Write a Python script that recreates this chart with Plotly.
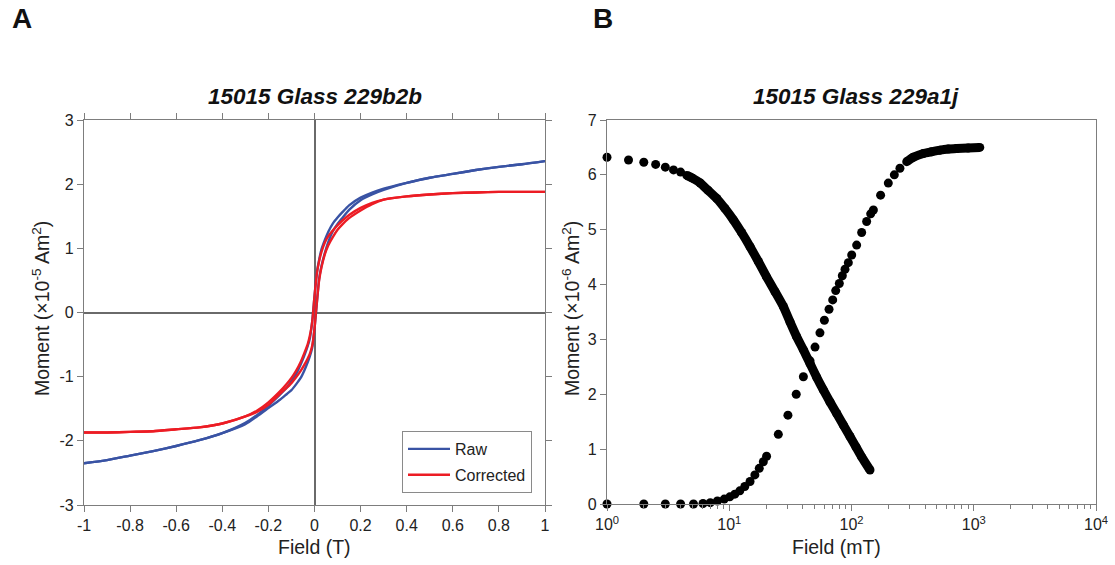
import plotly.graph_objects as go

# ---------------- Panel A data: hysteresis loop (field in T, moment in 1e-5 Am2) ----------------
FIELD_T = [1.0, 0.9, 0.8, 0.7, 0.6, 0.5, 0.4, 0.3, 0.25, 0.2, 0.15, 0.12, 0.1, 0.08, 0.06,
           0.045, 0.03, 0.02, 0.01, 0.0, -0.01, -0.02, -0.03, -0.045, -0.06, -0.08, -0.1,
           -0.12, -0.15, -0.2, -0.25, -0.3, -0.4, -0.5, -0.6, -0.7, -0.8, -0.9, -1.0]

RAW_DESC = [2.36, 2.31, 2.27, 2.22, 2.16, 2.10, 2.02, 1.93, 1.87, 1.79, 1.67, 1.56, 1.48, 1.39, 1.26,
            1.13, 0.98, 0.82, 0.62, 0.25, -0.14, -0.40, -0.53, -0.68, -0.81, -0.96, -1.07,
            -1.17, -1.28, -1.45, -1.60, -1.72, -1.88, -1.99, -2.08, -2.16, -2.23, -2.30, -2.35]
RAW_ASC = [2.36, 2.31, 2.27, 2.22, 2.16, 2.10, 2.02, 1.91, 1.84, 1.75, 1.60, 1.47, 1.38, 1.27, 1.10,
           0.93, 0.72, 0.52, 0.14, -0.25, -0.55, -0.68, -0.78, -0.91, -1.02, -1.12, -1.21,
           -1.27, -1.36, -1.49, -1.62, -1.74, -1.88, -1.99, -2.08, -2.16, -2.23, -2.30, -2.35]

COR_DESC = [1.88, 1.88, 1.88, 1.87, 1.86, 1.84, 1.81, 1.76, 1.71, 1.63, 1.52, 1.43, 1.36, 1.28, 1.19,
            1.09, 0.94, 0.80, 0.60, 0.25, -0.15, -0.36, -0.50, -0.64, -0.77, -0.91, -1.02,
            -1.11, -1.23, -1.40, -1.53, -1.62, -1.73, -1.79, -1.82, -1.85, -1.86, -1.87, -1.87]
COR_ASC = [1.88, 1.88, 1.88, 1.87, 1.86, 1.84, 1.81, 1.76, 1.69, 1.59, 1.47, 1.37, 1.29, 1.18, 1.05,
           0.91, 0.70, 0.50, 0.15, -0.25, -0.52, -0.64, -0.72, -0.82, -0.91, -1.01, -1.10,
           -1.17, -1.27, -1.44, -1.55, -1.62, -1.73, -1.79, -1.82, -1.85, -1.86, -1.87, -1.87]

X_TICKS_A = [-1, -0.8, -0.6, -0.4, -0.2, 0, 0.2, 0.4, 0.6, 0.8, 1]
X_TICKTEXT_A = ["-1", "-0.8", "-0.6", "-0.4", "-0.2", "0", "0.2", "0.4", "0.6", "0.8", "1"]
Y_TICKS_A = [-3, -2, -1, 0, 1, 2, 3]
Y_TICKTEXT_A = ["-3", "-2", "-1", "0", "1", "2", "3"]

# ---------------- Panel B data (field in mT, moment in 1e-6 Am2) ----------------
DEC_FIELD = [1.0, 1.5, 2.0, 2.5, 3.0, 3.5, 4.0, 4.5, 5.0, 5.8, 6.7, 7.9, 9.2, 10.8, 12.6, 14.8,
             17.3, 20.2, 23.7, 27.7, 31.4, 35.6, 40.4, 45.8, 51.9, 58.8, 66.7, 75.7, 85.7,
             97.2, 108.9, 121.0, 141.7]
DEC_MOMENT = [6.32, 6.27, 6.23, 6.19, 6.14, 6.09, 6.05, 5.99, 5.94, 5.85, 5.72, 5.57, 5.39, 5.18,
              4.95, 4.69, 4.42, 4.14, 3.87, 3.60, 3.32, 3.05, 2.81, 2.56, 2.31, 2.08, 1.86, 1.65,
              1.44, 1.23, 1.04, 0.86, 0.62]

IRM_FIELD = [1.0, 2.0, 3.0, 4.0, 5.1, 6.1, 7.0, 8.0, 9.1, 10.1, 11.1, 12.2, 13.4, 14.8, 16.2,
             17.6, 19.0, 20.2, 25.2, 30.2, 35.3, 40.4, 45.8, 50.3, 55.2, 60.0, 65.5, 70.2, 74.3,
             79.5, 84.1, 88.5, 94.2, 100.4, 110.2, 121.1, 133.0, 143.5, 151.0, 173.0, 200.0,
             224.0, 249.0, 283.0, 320.0, 387.0, 450.0, 530.0, 620.0, 725.0, 900.0, 1120.0]
IRM_MOMENT = [0.0, 0.0, 0.0, 0.0, 0.0, 0.01, 0.025, 0.055, 0.09, 0.13, 0.18, 0.24, 0.32, 0.41, 0.53,
              0.65, 0.77, 0.87, 1.27, 1.62, 2.00, 2.32, 2.61, 2.86, 3.12, 3.35, 3.55, 3.72, 3.89,
              4.02, 4.16, 4.28, 4.40, 4.54, 4.72, 4.95, 5.15, 5.29, 5.36, 5.63, 5.85,
              6.00, 6.12, 6.24, 6.32, 6.39, 6.42, 6.45, 6.47, 6.48, 6.49, 6.50]

X_TICKS_B = [1, 10, 100, 1000, 10000]
X_TICKTEXT_B = ["10<sup>0</sup>", "10<sup>1</sup>", "10<sup>2</sup>", "10<sup>3</sup>", "10<sup>4</sup>"]
X_MINOR_B = [2, 3, 4, 5, 6, 7, 8, 9,
             20, 30, 40, 50, 60, 70, 80, 90,
             200, 300, 400, 500, 600, 700, 800, 900,
             2000, 3000, 4000, 5000, 6000, 7000, 8000, 9000]
Y_TICKS_B = [0, 1, 2, 3, 4, 5, 6, 7]

# ---------------- styling ----------------
W, H = 1115, 565
FONT = "Liberation Sans, Arial, sans-serif"
AXC = "#7d7d7d"
BLUE = "#3953a4"
RED = "#ec1c24"
DEC_DENSE_FROM = 7
IRM_DENSE_FROM = 43


def fx(px):
    return px / W


def fy(py):
    return 1 - py / H


fig = go.Figure()

loop_line = dict(width=2.4, shape="spline", smoothing=0.6)
fig.add_trace(go.Scatter(x=FIELD_T, y=RAW_DESC, mode="lines", line=dict(color=BLUE, **loop_line),
                         name="Raw", legendgroup="raw", xaxis="x", yaxis="y"))
fig.add_trace(go.Scatter(x=FIELD_T, y=RAW_ASC, mode="lines", line=dict(color=BLUE, **loop_line),
                         name="Raw", legendgroup="raw", showlegend=False, xaxis="x", yaxis="y"))
fig.add_trace(go.Scatter(x=FIELD_T, y=COR_DESC, mode="lines", line=dict(color=RED, **loop_line),
                         name="Corrected", legendgroup="cor", xaxis="x", yaxis="y"))
fig.add_trace(go.Scatter(x=FIELD_T, y=COR_ASC, mode="lines", line=dict(color=RED, **loop_line),
                         name="Corrected", legendgroup="cor", showlegend=False, xaxis="x", yaxis="y"))

# Panel B
fig.add_trace(go.Scatter(x=DEC_FIELD[DEC_DENSE_FROM:], y=DEC_MOMENT[DEC_DENSE_FROM:], mode="lines",
                         line=dict(color="black", width=9, shape="spline", smoothing=0.5),
                         showlegend=False, xaxis="x2", yaxis="y2", cliponaxis=False))
fig.add_trace(go.Scatter(x=DEC_FIELD, y=DEC_MOMENT, mode="markers",
                         marker=dict(color="black", size=9), showlegend=False,
                         xaxis="x2", yaxis="y2", cliponaxis=False))
fig.add_trace(go.Scatter(x=IRM_FIELD[IRM_DENSE_FROM:], y=IRM_MOMENT[IRM_DENSE_FROM:], mode="lines",
                         line=dict(color="black", width=9, shape="spline", smoothing=0.5),
                         showlegend=False, xaxis="x2", yaxis="y2", cliponaxis=False))
fig.add_trace(go.Scatter(x=IRM_FIELD, y=IRM_MOMENT, mode="markers",
                         marker=dict(color="black", size=9), showlegend=False,
                         xaxis="x2", yaxis="y2", cliponaxis=False))

common = dict(showgrid=False, showline=True, linecolor=AXC, linewidth=1.3, ticks="outside",
              tickcolor=AXC, tickwidth=1.3, ticklen=6, automargin=False,
              tickfont=dict(family=FONT, size=16, color="#222"))

fig.update_layout(
    width=W, height=H, margin=dict(l=0, r=0, t=0, b=0),
    paper_bgcolor="white", plot_bgcolor="white",
    font=dict(family=FONT, color="#222"),
    xaxis=dict(domain=[fx(84), fx(545)], range=[-1, 1], anchor="y", tickmode="array",
               tickvals=X_TICKS_A, ticktext=X_TICKTEXT_A, mirror="ticks",
               zeroline=True, zerolinecolor="#6a6a6a", zerolinewidth=1.5, **common),
    yaxis=dict(domain=[fy(505), fy(120)], range=[-3, 3], anchor="x", tickmode="array",
               tickvals=Y_TICKS_A, ticktext=Y_TICKTEXT_A, mirror="ticks",
               zeroline=True, zerolinecolor="#6a6a6a", zerolinewidth=1.5, **common),
    xaxis2=dict(domain=[fx(607), fx(1096)], type="log", range=[0, 4], anchor="y2",
                tickmode="array", tickvals=X_TICKS_B, ticktext=X_TICKTEXT_B, mirror=True,
                zeroline=False,
                minor=dict(ticks="outside", ticklen=4, tickcolor=AXC, tickwidth=1.2,
                           tickmode="array", tickvals=X_MINOR_B, showgrid=False),
                **common),
    yaxis2=dict(domain=[fy(504), fy(120)], range=[0, 7], anchor="x2", tickmode="array",
                tickvals=Y_TICKS_B, mirror=True, zeroline=False, **common),
    legend=dict(x=fx(532), y=fy(493), xanchor="right", yanchor="bottom",
                bgcolor="white", bordercolor="#8a8a8a", borderwidth=1,
                font=dict(family=FONT, size=16, color="#222"), itemwidth=42,
                tracegroupgap=2),
    showlegend=True,
)

ann = []
ann.append(dict(text="<b><i>15015 Glass 229b2b</i></b>", x=fx(315.5), y=fy(97), xref="paper", yref="paper",
                showarrow=False, font=dict(family=FONT, size=22.5, color="#111"), xanchor="center", yanchor="middle"))
ann.append(dict(text="<b><i>15015 Glass 229a1j</i></b>", x=fx(856), y=fy(97), xref="paper", yref="paper",
                showarrow=False, font=dict(family=FONT, size=22.5, color="#111"), xanchor="center", yanchor="middle"))
ann.append(dict(text="<b>A</b>", x=fx(22), y=fy(19), xref="paper", yref="paper", showarrow=False,
                font=dict(family=FONT, size=28, color="#111"), xanchor="center", yanchor="middle"))
ann.append(dict(text="<b>B</b>", x=fx(603), y=fy(19), xref="paper", yref="paper", showarrow=False,
                font=dict(family=FONT, size=28, color="#111"), xanchor="center", yanchor="middle"))
ann.append(dict(text="Field (T)", x=fx(314), y=fy(547), xref="paper", yref="paper", showarrow=False,
                font=dict(family=FONT, size=19.5, color="#222"), xanchor="center", yanchor="middle"))
ann.append(dict(text="Field (mT)", x=fx(836), y=fy(547), xref="paper", yref="paper", showarrow=False,
                font=dict(family=FONT, size=19.5, color="#222"), xanchor="center", yanchor="middle"))
ann.append(dict(text="Moment (×10<sup>-5</sup> Am<sup>2</sup>)", x=fx(41), y=fy(309), xref="paper",
                yref="paper", showarrow=False, textangle=-90,
                font=dict(family=FONT, size=19.5, color="#222"), xanchor="center", yanchor="middle"))
ann.append(dict(text="Moment (×10<sup>-6</sup> Am<sup>2</sup>)", x=fx(571), y=fy(309), xref="paper",
                yref="paper", showarrow=False, textangle=-90,
                font=dict(family=FONT, size=19.5, color="#222"), xanchor="center", yanchor="middle"))
fig.update_layout(annotations=ann)

fig.write_html("out.html", config={"displayModeBar": False},
               post_script="document.body.style.margin='0px';")
